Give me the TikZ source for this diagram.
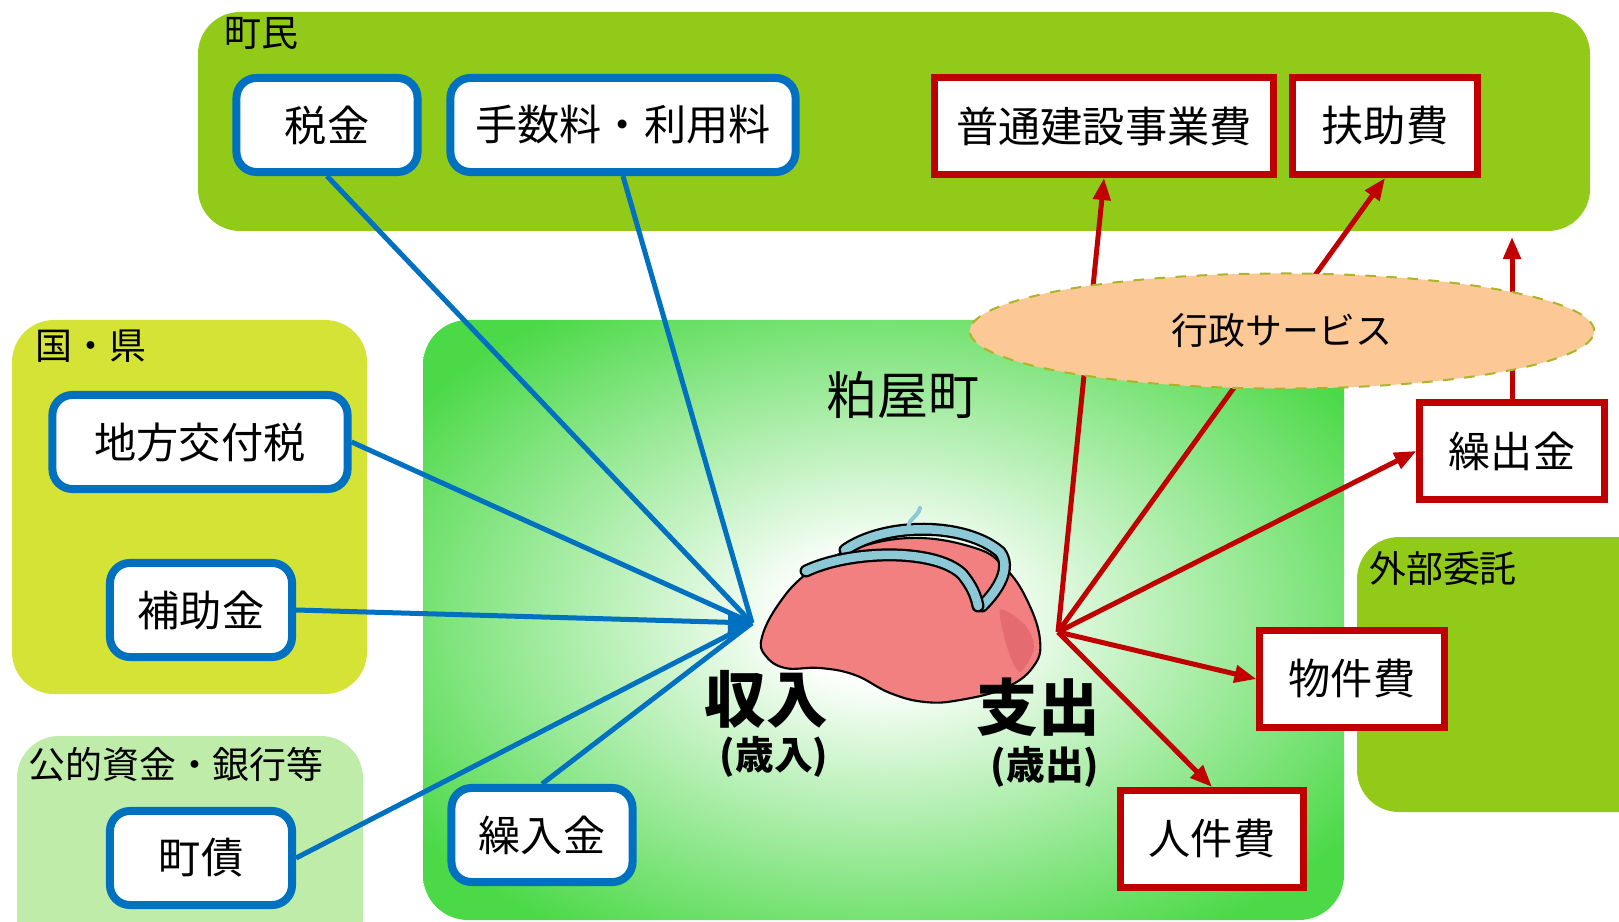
\documentclass[tikz,border=0pt]{standalone}
\usepackage{fontspec}
\setmainfont{Noto Sans CJK JP}
\usetikzlibrary{arrows.meta,shapes.geometric}

\definecolor{leafgreen}{RGB}{146,202,26}
\definecolor{kenyellow}{RGB}{213,227,55}
\definecolor{bankgreen}{RGB}{192,236,170}
\definecolor{towngreen}{RGB}{76,217,72}
\definecolor{inblue}{RGB}{0,112,192}
\definecolor{outred}{RGB}{192,0,0}
\definecolor{svcorange}{RGB}{252,200,150}
\definecolor{svcline}{RGB}{170,182,40}
\definecolor{pursepink}{RGB}{243,128,128}
\definecolor{pursedark}{RGB}{228,108,112}
\definecolor{claspblue}{RGB}{140,200,214}

\pgfdeclareradialshading{townglow}{\pgfpoint{0bp}{0bp}}{%
  color(0bp)=(white); color(5bp)=(white); color(31bp)=(towngreen); color(100bp)=(towngreen)}

\newcommand*{\Panels}[1]{% #1 = list of x1/y1/x2/y2/color
  \foreach \xa/\ya/\xb/\yb/\fillcol in {#1} {
    \fill [\fillcol, rounded corners=0.42cm] (\xa,\ya) rectangle (\xb,\yb);
  }%
}
\newcommand*{\InBoxes}[1]{% #1 = list of name/x/y/width/text
  \foreach \name/\x/\y/\w/\txt in {#1} {
    \node [inbox, minimum width=\w cm] (\name) at (\x,\y) {\txt};
  }%
}
\newcommand*{\OutBoxes}[1]{% #1 = list of name/x/y/width/text
  \foreach \name/\x/\y/\w/\txt in {#1} {
    \node [outbox, minimum width=\w cm] (\name) at (\x,\y) {\txt};
  }%
}

\begin{document}
\begin{tikzpicture}[x=0.01cm, y=-0.01cm,
    inbox/.style={draw=inblue, line width=0.08cm, fill=white, rounded corners=0.2cm,
      minimum height=0.94cm, inner sep=0pt, font=\fontsize{12pt}{14pt}\selectfont},
    outbox/.style={draw=outred, line width=0.07cm, fill=white,
      minimum height=0.97cm, inner sep=0pt, font=\fontsize{12pt}{14pt}\selectfont},
    grouplabel/.style={font=\fontsize{10.5pt}{12pt}\selectfont},
    inflow/.style={inblue, line width=0.05cm},
    outflow/.style={outred, line width=0.05cm, -{Triangle[length=0.22cm,width=0.17cm]}},
    frame/.style={line cap=round}]
  \useasboundingbox (0,0) rectangle (1619,922);
  \clip (0,0) rectangle (1619,922);

  % background groups
  \Panels{198/12/1590/231/leafgreen, 12/320/367/694/kenyellow,
    17/736/363/960/bankgreen, 1357/537/1680/812/leafgreen}
  \shade [shading=townglow, rounded corners=0.45cm] (423,320) rectangle (1344,920);

  \node [grouplabel] (choumin) at (261,33) {町民};
  \node [grouplabel] (kuniken) at (91,346) {国・県};
  \node [grouplabel] (ginkou) at (176,764) {公的資金・銀行等};
  \node [grouplabel] (gaibu) at (1443,568) {外部委託};
  \node [font=\fontsize{14.5pt}{16pt}\selectfont] (kasuya) at (903,395) {粕屋町};

  % purse
  \fill [pursepink] plot [smooth cycle, tension=0.7] coordinates {
    (762,637) (778,605) (805,575) (845,552) (910,538) (975,548) (1005,568)
    (1027,600) (1040,640) (1033,667) (1005,688) (960,700) (925,702) (890,693)
    (855,675) (820,668) (785,668) (765,655)};
  \fill [pursedark] plot [smooth cycle] coordinates {
    (1000,610) (1025,625) (1034,648) (1020,672) (1008,650)};
  \draw [black, line width=0.6pt] plot [smooth cycle, tension=0.7] coordinates {
    (762,637) (778,605) (805,575) (845,552) (910,538) (975,548) (1005,568)
    (1027,600) (1040,640) (1033,667) (1005,688) (960,700) (925,702) (890,693)
    (855,675) (820,668) (785,668) (765,655)};
  \foreach \w/\c in {0.13cm/black, 0.085cm/claspblue}
    \draw [frame, line width=\w, \c] (845,550) .. controls (885,522) and (965,522) .. (1000,552)
      .. controls (1012,568) and (998,590) .. (982,606);
  \foreach \w/\c in {0.13cm/black, 0.085cm/claspblue}
    \draw [frame, line width=\w, \c] (806,571) .. controls (850,550) and (935,548) .. (962,574)
      .. controls (972,586) and (976,596) .. (978,606);
  \draw [claspblue, line width=0.04cm, line cap=round] (910,532) .. controls (904,520) and (918,518) .. (920,508);

  \node [font=\fontsize{17.5pt}{20pt}\selectfont\bfseries] (shunyu) at (766,699) {収入};
  \node [font=\fontsize{11pt}{13pt}\selectfont\bfseries] (sainyu) at (774,757) {(歳入)};
  \node [font=\fontsize{17.5pt}{20pt}\selectfont\bfseries] (shishutsu) at (1038,707) {支出};
  \node [font=\fontsize{11pt}{13pt}\selectfont\bfseries] (saishutsu) at (1045,767) {(歳出)};

  % income and spending
  \InBoxes{zei/327/125/1.81/税金, tesu/623/125/3.45/手数料・利用料,
    kofu/200/442/2.95/地方交付税, hojo/201/610/1.82/補助金,
    chosai/201/858/1.82/町債, kurii/542/835/1.81/繰入金}
  \OutBoxes{futsu/1104/126/3.39/普通建設事業費, fujo/1385/126/1.84/扶助費,
    kurid/1512/451/1.84/繰出金, bukken/1352/679/1.84/物件費,
    jinken/1212/839/1.83/人件費}

  \coordinate (inhub) at (752,623);
  \coordinate (outhub) at (1058,632);
  \coordinate (chominedge) at (1512,237);

  \foreach \src in {zei.south, tesu.south, kofu.east, chosai.east, kurii.north}
    \draw [inflow] (\src) -- (inhub);
  \draw [inflow, -{Triangle[length=0.24cm,width=0.2cm]}] (hojo.east) -- (inhub);

  \foreach \dst in {futsu.south, fujo.south, kurid.west, bukken.west, jinken.north}
    \draw [outflow] (outhub) -- (\dst);
  \draw [outflow] (kurid.north) -- (chominedge);

  \node [ellipse, draw=svcline, dashed, line width=0.02cm, fill=svcorange,
    minimum width=6.24cm, minimum height=1.15cm, grouplabel] (gyosei) at (1282,331) {行政サービス};
\end{tikzpicture}
\end{document}
